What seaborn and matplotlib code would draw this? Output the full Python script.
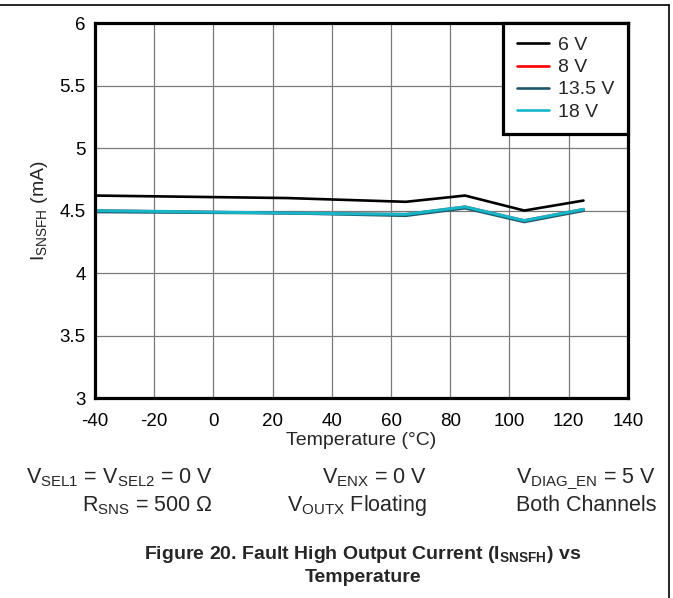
import numpy as np
import pandas as pd
import matplotlib
matplotlib.use("Agg")
import matplotlib.pyplot as plt
import seaborn as sns
from matplotlib.lines import Line2D

temps = [-40, 25, 65, 85, 105, 125]
i_6v = [4.62, 4.60, 4.57, 4.62, 4.50, 4.58]
i_8v = [4.50, 4.48, 4.47, 4.53, 4.42, 4.51]
i_13v5 = [4.49, 4.48, 4.46, 4.52, 4.41, 4.50]
i_18v = [4.50, 4.48, 4.47, 4.53, 4.42, 4.51]
series_names = ["6 V", "8 V", "13.5 V", "18 V"]
series_colors = ["#000000", "#ff0000", "#1f5868", "#16b5c8"]
x_ticks = [-40, -20, 0, 20, 40, 60, 80, 100, 120, 140]
y_ticks = [3, 3.5, 4, 4.5, 5, 5.5, 6]

rows = []
for name, vals in zip(series_names, [i_6v, i_8v, i_13v5, i_18v]):
    for t, v in zip(temps, vals):
        rows.append({"Temperature": t, "Current": v, "Supply": name})
df = pd.DataFrame(rows)

sns.set_style("white")
plt.rcParams["font.family"] = ["Liberation Sans", "DejaVu Sans"]
plt.rcParams["mathtext.fontset"] = "custom"
plt.rcParams["mathtext.rm"] = "Liberation Sans"
plt.rcParams["mathtext.it"] = "Liberation Sans"
plt.rcParams["mathtext.bf"] = "Liberation Sans:bold"

fig = plt.figure(figsize=(6.73, 5.98), dpi=100)
ax = fig.add_axes([0.141, 0.3344, 0.792, 0.627])

sns.lineplot(data=df, x="Temperature", y="Current", hue="Supply",
             hue_order=series_names, palette=series_colors, ax=ax,
             linewidth=2.0, legend=False)
for ln, lw in zip(ax.lines, [1.9, 1.9, 2.2, 2.2]):
    ln.set_linewidth(lw)

ax.set_xlim(-40, 140)
ax.set_ylim(3, 6)
ax.set_xticks(x_ticks)
ax.set_xticklabels([str(t) for t in x_ticks])
ax.set_yticks(y_ticks)
ax.set_yticklabels([f"{t:g}" for t in y_ticks])
ax.tick_params(axis="both", length=0, labelsize=13.5, colors="black")
ax.tick_params(axis="x", pad=11)
ax.tick_params(axis="y", pad=6.5)
ax.grid(True, color="#7a7a7a", linewidth=0.9)
ax.set_axisbelow(True)
for sp in ax.spines.values():
    sp.set_visible(True)
    sp.set_color("black")
    sp.set_linewidth(2.3)

ax.set_xlabel("Temperature (°C)", fontsize=14, labelpad=1)
ax.set_ylabel(r"$\mathregular{I_{SNSFH}}$ (mA)", fontsize=14, labelpad=7)

handles = [Line2D([0], [0], color=c, linewidth=1.9) for c in series_colors]
leg = ax.legend(handles, series_names, loc="upper right", borderaxespad=0,
                fontsize=14, frameon=True, fancybox=False, framealpha=1,
                handlelength=1.65, handletextpad=0.45, labelspacing=0.23,
                borderpad=0.7)
leg.get_frame().set_edgecolor("black")
leg.get_frame().set_linewidth(2.3)

fs = 15.5
fig.text(213 / 673, 1 - 483 / 598, r"$\mathregular{V_{SEL1}}$ = $\mathregular{V_{SEL2}}$ = 0 V",
         ha="right", va="baseline", fontsize=fs)
fig.text(213 / 673, 1 - 511 / 598, r"$\mathregular{R_{SNS}}$ = 500 Ω",
         ha="right", va="baseline", fontsize=fs)
fig.text(427 / 673, 1 - 483 / 598, r"$\mathregular{V_{ENX}}$ = 0 V",
         ha="right", va="baseline", fontsize=fs)
fig.text(427 / 673, 1 - 511 / 598, r"$\mathregular{V_{OUTX}}$ Floating",
         ha="right", va="baseline", fontsize=fs)
fig.text(656 / 673, 1 - 483 / 598, r"$\mathregular{V_{DIAG\_EN}}$ = 5 V",
         ha="right", va="baseline", fontsize=fs)
fig.text(656 / 673, 1 - 511 / 598, "Both Channels",
         ha="right", va="baseline", fontsize=fs)

fig.text(363 / 673, 1 - 559 / 598,
         r"Figure 20. Fault High Output Current ($\mathbf{I_{SNSFH}}$) vs",
         ha="center", va="baseline", fontsize=14, fontweight="bold")
fig.text(363 / 673, 1 - 582 / 598, "Temperature",
         ha="center", va="baseline", fontsize=14, fontweight="bold")

# partial outer frame (top and right edges)
fig.add_artist(Line2D([0, 669 / 673], [1 - 5 / 598, 1 - 5 / 598],
                      transform=fig.transFigure, color="black", linewidth=1.2))
fig.add_artist(Line2D([669 / 673, 669 / 673], [1 - 5 / 598, 0],
                      transform=fig.transFigure, color="black", linewidth=1.2))

fig.savefig("out.png", dpi=100)
